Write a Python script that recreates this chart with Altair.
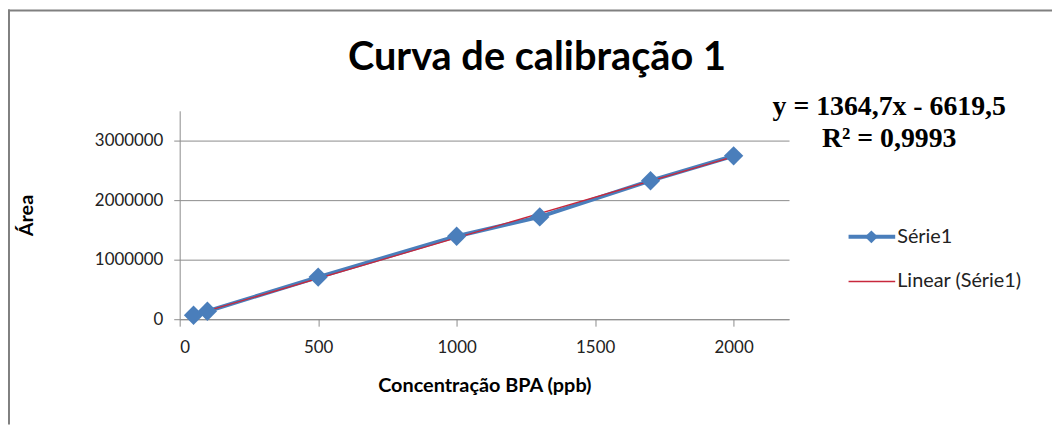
import altair as alt
import pandas as pd

conc = [50, 100, 500, 1000, 1300, 1700, 2000]
area = [67000, 134000, 708000, 1394000, 1718000, 2326000, 2744000]
x_ticks = [0, 500, 1000, 1500, 2000]
y_ticks = [0, 1000000, 2000000, 3000000]
title_text = "Curva de calibração 1"
eq_lines = ["y = 1364,7x - 6619,5", "R² = 0,9993"]
legend_labels = ["Série1", "Linear (Série1)"]

BLUE = "#4A7EBB"
RED = "#C8283C"
GRID = "#8C8C8C"
FONT = "Lato"

W, H = 614, 210
PAD = {"left": 173, "top": 102, "right": 265, "bottom": 106}

df = pd.DataFrame({"x": conc, "y": area})

xs = alt.X("x:Q", scale=alt.Scale(domain=[0, 2200], nice=False),
           axis=alt.Axis(values=x_ticks, format="d", grid=False, title="Concentração BPA (ppb)",
                         titleFont=FONT, titleFontSize=20, titleFontWeight="bold",
                         titleColor="#000", titlePadding=20,
                         labelFont=FONT, labelFontSize=17, labelColor="#222",
                         labelPadding=14, tickSize=7, tickColor=GRID, domainColor=GRID))
ys = alt.Y("y:Q", scale=alt.Scale(domain=[0, 3500000], nice=False),
           axis=alt.Axis(values=y_ticks, format="d", grid=True, gridColor=GRID,
                         title="Área", titleFont=FONT, titleFontSize=20,
                         titleFontWeight="bold", titleColor="#000", titlePadding=58,
                         labelFont=FONT, labelFontSize=17, labelColor="#222",
                         labelPadding=11, tickSize=6, tickColor=GRID, domainColor=GRID,
                         labelLimit=200))

base = alt.Chart(df)
line = base.mark_line(color=BLUE, strokeWidth=4).encode(x=xs, y=ys)
pts = base.mark_point(shape="diamond", filled=True, color=BLUE, size=380, opacity=1).encode(x="x:Q", y="y:Q")
trend = base.transform_regression("x", "y").mark_line(color=RED, strokeWidth=1.3).encode(x="x:Q", y="y:Q")

one = pd.DataFrame({"a": [0]})
def txt(text, x, y, size, font=FONT, weight="normal", align="center", color="#000"):
    return alt.Chart(one).mark_text(text=text, font=font, fontSize=size, fontWeight=weight,
                                    align=align, baseline="middle", color=color).encode(
        x=alt.value(x), y=alt.value(y))

title = txt(title_text, 360, -53, 40, weight="bold")
eq1 = txt(eq_lines[0], 715, -4, 28, font="Liberation Serif", weight="bold")
eq2 = txt(eq_lines[1], 715, 28, 28, font="Liberation Serif", weight="bold")

leg_line1 = alt.Chart(one).mark_rule(color=BLUE, strokeWidth=4).encode(
    x=alt.value(674), x2=alt.value(721), y=alt.value(127))
leg_pt1 = alt.Chart(one).mark_point(shape="diamond", filled=True, color=BLUE, size=170, opacity=1).encode(
    x=alt.value(697), y=alt.value(127))
leg_txt1 = txt(legend_labels[0], 723, 127, 20, align="left", color="#222")
leg_line2 = alt.Chart(one).mark_rule(color=RED, strokeWidth=1.3).encode(
    x=alt.value(674), x2=alt.value(721), y=alt.value(172))
leg_txt2 = txt(legend_labels[1], 723, 172, 20, align="left", color="#222")

frame_top = alt.Chart(one).mark_rule(color="#808080", strokeWidth=2).encode(
    x=alt.value(-173), x2=alt.value(W + PAD["right"]), y=alt.value(-101))
frame_left = alt.Chart(one).mark_rule(color="#808080", strokeWidth=2).encode(
    x=alt.value(-172), y=alt.value(-102), y2=alt.value(H + PAD["bottom"]))

chart = alt.layer(line, trend, pts, title, eq1, eq2, leg_line1, leg_pt1, leg_txt1,
                  leg_line2, leg_txt2, frame_top, frame_left).properties(
    width=W, height=H, padding=PAD, autosize=alt.AutoSizeParams(type="none"),
    background="white"
).configure_view(stroke=None)

chart.save("out.html", embed_options={"renderer": "svg", "actions": False})
